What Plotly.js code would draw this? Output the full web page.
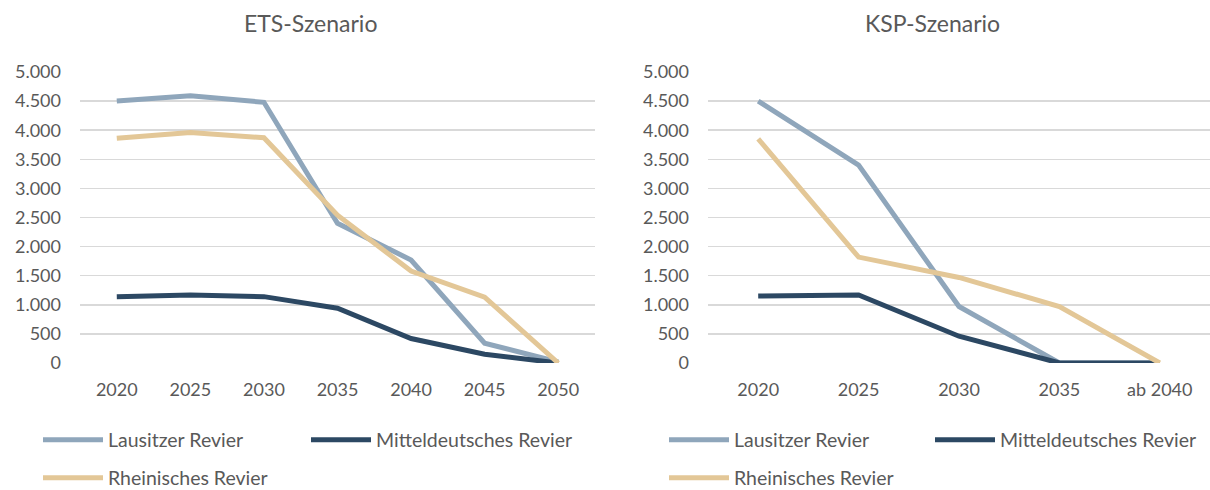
<!DOCTYPE html>
<html><head><meta charset="utf-8">
<script src="https://cdn.plot.ly/plotly-3.0.1.min.js"></script>
<style>html,body{margin:0;padding:0;background:#fff}#c{width:1210px;height:490px}</style>
</head><body><div id="c"></div>
<script>
const etsYears = ['2020','2025','2030','2035','2040','2045','2050'];
const kspYears = ['2020','2025','2030','2035','ab 2040'];
const etsLausitz = [4500, 4590, 4480, 2400, 1770, 340, 20];
const etsMittel  = [1140, 1170, 1140, 940, 420, 150, 0];
const etsRhein   = [3860, 3960, 3870, 2540, 1580, 1130, 0];
const kspLausitz = [4500, 3400, 970, 0, 0];
const kspMittel  = [1150, 1170, 460, 0, 0];
const kspRhein   = [3850, 1820, 1470, 970, 0];
const names = ['Lausitzer Revier','Mitteldeutsches Revier','Rheinisches Revier'];
const colors = ['#8FA6BB','#2C4863','#E3C797'];
const titles = ['ETS-Szenario','KSP-Szenario'];

const TXT = '#595959';
const FONT = 'Lato, "Noto Sans", sans-serif';

function tr(x, y, i, xa, ya, leg){
  return {type:'scatter', mode:'lines', x:x, y:y, name:names[i], xaxis:xa, yaxis:ya,
    line:{color:colors[i], width:5, shape:'linear'}, legend:leg, showlegend:true,
    hoverinfo:'skip'};
}
const data = [
  tr(etsYears, etsLausitz, 0, 'x', 'y', 'legend'),
  tr(etsYears, etsMittel, 1, 'x', 'y', 'legend2'),
  tr(etsYears, etsRhein, 2, 'x', 'y', 'legend3'),
  tr(kspYears, kspLausitz, 0, 'x2', 'y2', 'legend4'),
  tr(kspYears, kspMittel, 1, 'x2', 'y2', 'legend5'),
  tr(kspYears, kspRhein, 2, 'x2', 'y2', 'legend6'),
];
const W = 1210, H = 490;
const yDom = [1-363/H, 1-72/H];
function yax(anchor){
  return {domain:yDom, range:[0,5000], dtick:500, tick0:0, anchor:anchor,
    showgrid:true, gridcolor:'#D9D9D9', gridwidth:1.5, zeroline:false, showline:false,
    tickformat:',d', separatethousands:true, ticks:'', ticklabelstandoff:18,
    tickfont:{family:FONT, size:18, color:TXT}, fixedrange:true, automargin:false};
}
function xax(dom, anchor, n){
  return {domain:dom, type:'category', anchor:anchor, range:[-0.5, n-0.5],
    showgrid:false, zeroline:false, showline:false, ticks:'', ticklabelstandoff:14,
    tickfont:{family:FONT, size:18, color:TXT}, fixedrange:true, automargin:false};
}
function leg(x, y){
  return {orientation:'h', x:x, y:y, xanchor:'left', yanchor:'middle',
    font:{family:FONT, size:19.5, color:TXT}, bgcolor:'rgba(0,0,0,0)',
    itemwidth:60, tracegroupgap:0};
}
const layout = {
  width:W, height:H, margin:{l:0, r:0, t:0, b:0, autoexpand:false},
  paper_bgcolor:'#fff', plot_bgcolor:'#fff', separators:',.',
  font:{family:FONT, color:TXT},
  xaxis:xax([80/W, 595/W], 'y', etsYears.length), yaxis:yax('x'),
  xaxis2:xax([708/W, 1.0], 'y2', kspYears.length), yaxis2:yax('x2'),
  legend:leg(38/W, 1-440/H), legend2:leg(306/W, 1-440/H), legend3:leg(38/W, 1-478/H),
  legend4:leg(664/W, 1-440/H), legend5:leg(930/W, 1-440/H), legend6:leg(664/W, 1-478/H),
  annotations:[
    {text:titles[0], xref:'paper', yref:'paper', x:310/W, y:1-23/H, showarrow:false,
      xanchor:'center', yanchor:'middle', font:{family:FONT, size:23, color:TXT}},
    {text:titles[1], xref:'paper', yref:'paper', x:932/W, y:1-23/H, showarrow:false,
      xanchor:'center', yanchor:'middle', font:{family:FONT, size:23, color:TXT}}
  ]
};
Plotly.newPlot('c', data, layout, {displayModeBar:false, staticPlot:true});
</script></body></html>
